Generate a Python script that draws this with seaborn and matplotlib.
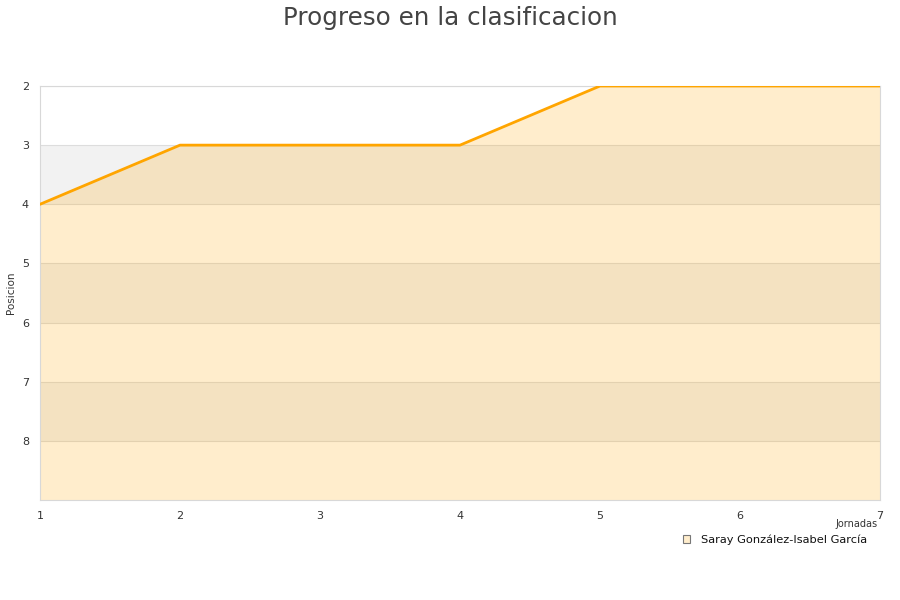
import matplotlib
matplotlib.use("Agg")
import matplotlib.pyplot as plt
import seaborn as sns
import pandas as pd
from matplotlib.patches import Patch

# datos
jornadas = [1, 2, 3, 4, 5, 6, 7]
posiciones = [4, 3, 3, 3, 2, 2, 2]
pareja = "Saray González-Isabel García"
yticks = [2, 3, 4, 5, 6, 7, 8]

df = pd.DataFrame({"Jornadas": jornadas, "Posicion": posiciones})

sns.set_theme(style="white")
plt.rcParams['font.family'] = ['DejaVu Sans']

fig = plt.figure(figsize=(9, 6), dpi=100)
ax = fig.add_axes([40 / 900, 1 - 500 / 600, 840 / 900, 414 / 600])

# bandas alternas
for y0 in [3, 5, 7]:
    ax.axhspan(y0, y0 + 1, color="#F2F2F2", zorder=0, lw=0)
for y in yticks:
    ax.axhline(y, color="#DDDDDD", lw=0.8, zorder=1)

ax.fill_between(df["Jornadas"], df["Posicion"], 9, color="#FFA500", alpha=0.2, lw=0, zorder=2)
sns.lineplot(data=df, x="Jornadas", y="Posicion", color="#FFA500", lw=2, ax=ax, zorder=3)

ax.set_xlim(1, 7)
ax.set_ylim(9, 2)
ax.set_yticks(yticks)
ax.set_xticks(jornadas)
ax.tick_params(axis="both", labelsize=8, colors="#333333", length=0, pad=8)
for s in ["left", "bottom", "right", "top"]:
    ax.spines[s].set_color("#D8D8D8")
    ax.spines[s].set_linewidth(0.8)

ax.set_ylabel("")
ax.set_xlabel("")
fig.text(11 / 900, 1 - 293 / 600, "Posicion", fontsize=7.5, color="#333333", rotation=90,
         ha="center", va="center")
fig.text(878 / 900, 1 - 524 / 600, "Jornadas", fontsize=7, color="#333333", ha="right", va="center")

fig.suptitle("Progreso en la clasificacion", fontsize=17.7, color="#444444", y=0.99)

handle = Patch(facecolor="#FFEDCC", edgecolor="#777777", lw=0.8)
leg = fig.legend([handle], [pareja], loc="center right", bbox_to_anchor=(868 / 900, 1 - 540 / 600),
                 frameon=False, fontsize=8.2, handlelength=0.7, handleheight=0.7, borderaxespad=0,
                 borderpad=0.1, handletextpad=0.9)
for t in leg.get_texts():
    t.set_color("#111111")

fig.savefig("out.png", dpi=100)
